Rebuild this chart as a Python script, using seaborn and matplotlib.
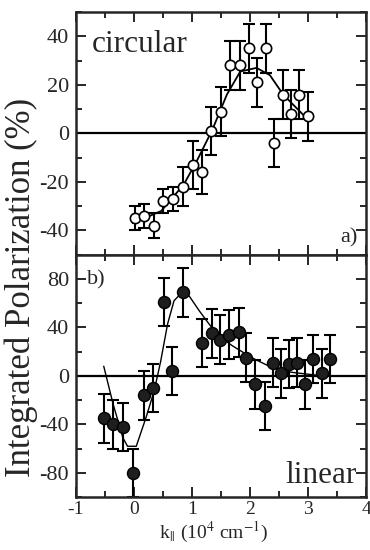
import numpy as np
import seaborn as sns
import matplotlib.pyplot as plt
from matplotlib.ticker import MultipleLocator

# Circular polarization, panel a)
circ_k = [0.01, 0.17, 0.34, 0.50, 0.67, 0.84, 1.01, 1.17, 1.33, 1.50,
          1.66, 1.83, 1.98, 2.12, 2.28, 2.41, 2.57, 2.70, 2.85, 2.99]
circ_p = [-35, -34, -38, -28, -27, -22, -13, -16, 1, 9,
          28, 28, 35, 21, 35, -4, 16, 8, 16, 7]
circ_err = [5, 5, 5, 5, 5, 8, 10, 9, 10, 10,
            10, 10, 10, 10, 10, 10, 10, 10, 10, 10]
fit_a_k = [-0.02, 0.47, 0.86, 1.09, 1.35, 1.60, 1.83, 2.11, 2.34, 2.57, 2.94]
fit_a_p = [-37, -32, -21, -11, 1.5, 16, 25.5, 27, 24, 16, 7]

# Linear polarization, panel b)
lin_k = [-0.52, -0.36, -0.18, -0.02, 0.17, 0.33, 0.52, 0.66, 0.84, 1.17,
         1.34, 1.49, 1.64, 1.80, 1.93, 2.09, 2.25, 2.39, 2.53, 2.67,
         2.81, 2.95, 3.09, 3.23, 3.37]
lin_p = [-35, -40, -42, -80, -16, -10, 61, 4, 69, 27,
         35, 30, 34, 36, 15, -7, -25, 11, 2, 10,
         11, -7, 14, 2, 14]
lin_err = [20] * 25
fit_b_k = [-0.52, -0.36, -0.19, -0.11, 0.04, 0.21, 0.35, 0.46, 0.58, 0.69,
           0.83, 0.95, 1.12, 1.29, 1.46, 1.69, 2.03, 2.37, 2.71, 3.26]
fit_b_p = [8, -23, -51, -58, -58, -34, -12, 12, 43, 62,
           69, 66, 54, 43, 33, 25, 15, 7, 3, 0]

sns.set_style("ticks")
plt.rcParams['font.family'] = ['Liberation Serif', 'DejaVu Serif']
plt.rcParams['mathtext.fontset'] = 'stix'
plt.rcParams['axes.unicode_minus'] = False

fig, (ax_a, ax_b) = plt.subplots(2, 1, sharex=True, figsize=(3.7, 5.5), dpi=100)
fig.subplots_adjust(left=0.205, right=0.99, top=0.978, bottom=0.096, hspace=0)

# panel a
ax_a.axhline(0, color='black', lw=1.6, zorder=1)
ax_a.errorbar(circ_k, circ_p, yerr=circ_err, fmt='none', ecolor='black',
              elinewidth=1.5, capsize=4.5, capthick=1.5, zorder=2)
sns.lineplot(x=fit_a_k, y=fit_a_p, ax=ax_a, color='black', lw=1.3, sort=False, zorder=2)
sns.scatterplot(x=circ_k, y=circ_p, ax=ax_a, marker='o', s=55, facecolor='white',
                edgecolor='black', linewidth=1.2, zorder=3)
ax_a.set_ylim(-50, 50)
ax_a.yaxis.set_major_locator(MultipleLocator(20))
ax_a.yaxis.set_minor_locator(MultipleLocator(10))
ax_a.text(0.055, 0.834, 'circular', transform=ax_a.transAxes, fontsize=22.5, va='baseline')
ax_a.text(0.969, 0.05, 'a)', transform=ax_a.transAxes, fontsize=16, ha='right', va='baseline')

# panel b
ax_b.axhline(0, color='black', lw=1.6, zorder=1)
ax_b.errorbar(lin_k, lin_p, yerr=lin_err, fmt='none', ecolor='black',
              elinewidth=1.5, capsize=4.5, capthick=1.5, zorder=2)
sns.lineplot(x=fit_b_k, y=fit_b_p, ax=ax_b, color='black', lw=1.0, sort=False, zorder=2)
sns.scatterplot(x=lin_k, y=lin_p, ax=ax_b, marker='o', s=75, color='#1e1e1e',
                edgecolor='black', linewidth=1.0, zorder=3)
ax_b.set_ylim(-100, 100)
ax_b.yaxis.set_major_locator(MultipleLocator(40))
ax_b.yaxis.set_minor_locator(MultipleLocator(20))
ax_b.text(0.038, 0.876, 'b)', transform=ax_b.transAxes, fontsize=16, va='baseline')
ax_b.text(0.966, 0.058, 'linear', transform=ax_b.transAxes, fontsize=22.5, ha='right', va='baseline')

ax_b.set_xlim(-1, 4)
ax_b.xaxis.set_major_locator(MultipleLocator(1))
ax_b.xaxis.set_minor_locator(MultipleLocator(0.5))

for ax in (ax_a, ax_b):
    for sp in ax.spines.values():
        sp.set_linewidth(1.8)
    ax.tick_params(which='both', direction='in', top=True, right=True, width=1.4)
    ax.tick_params(which='major', length=7, labelsize=16, pad=5)
    ax.tick_params(which='minor', length=4)
    ax.set_xlabel('')
    ax.set_ylabel('')

ax_b.tick_params(axis='x', labelsize=14, pad=3)

fig.text(0.057, 0.478, 'Integrated Polarization (%)', rotation=90,
         fontsize=25, ha='center', va='center')
fig.text(0.576, 0.021, r'k$_{||}$ (10$^4$ cm$^{-1}$)', fontsize=14,
         ha='center', va='baseline')

fig.savefig('out.png', dpi=100)
